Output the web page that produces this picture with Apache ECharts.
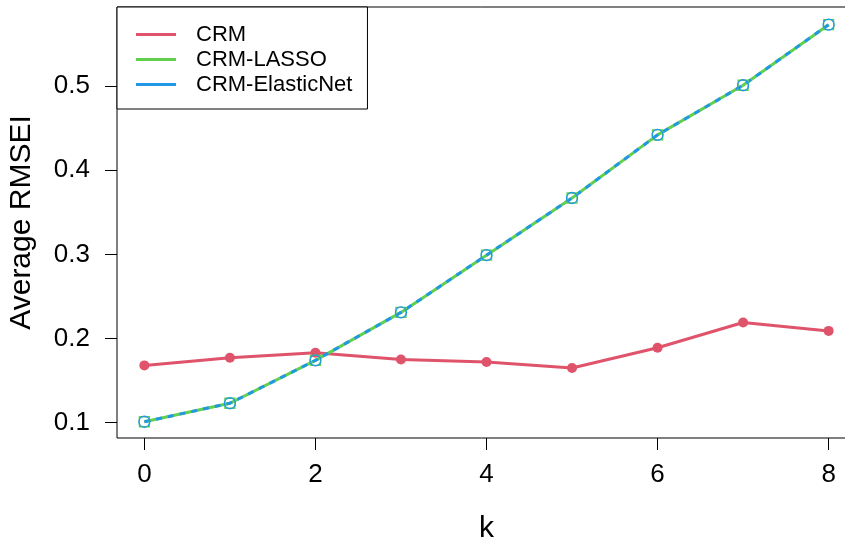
<!DOCTYPE html>
<html lang="en">

<head>
    <meta charset="UTF-8">
    <title>Average RMSEI</title>
    <script src="https://cdn.jsdelivr.net/npm/echarts@6.0.0/dist/echarts.min.js"></script>
    <style>
        body {
            margin: 0;
            background: #fff;
        }
    </style>
</head>

<body>
    <div id="main" style="width: 845px;height:544px;"></div>

    <script>
        const kValues = [0, 1, 2, 3, 4, 5, 6, 7, 8];
        const crm = [0.168, 0.177, 0.183, 0.175, 0.172, 0.165, 0.189, 0.219, 0.209];
        const crmLasso = [0.101, 0.123, 0.174, 0.231, 0.299, 0.367, 0.442, 0.501, 0.573];
        const crmElastic = [0.101, 0.123, 0.174, 0.231, 0.299, 0.367, 0.442, 0.501, 0.573];
        const xTicks = [0, 2, 4, 6, 8];
        const yTicks = [0.1, 0.2, 0.3, 0.4, 0.5];

        const chart = echarts.init(document.getElementById('main'));

        function pairs(ys) {
            return kValues.map((k, i) => [k, ys[i]]);
        }

        const lineIcon = 'path://M0,0 L40,0 L40,3 L0,3 Z';
        const font = 'Liberation Sans, Arial, sans-serif';

        const option = {
            animation: false,
            grid: {
                left: 117,
                right: -11,
                top: 7,
                bottom: 106,
                outerBoundsMode: 'none',
                show: true,
                borderColor: '#000',
                borderWidth: 1
            },
            legend: {
                orient: 'vertical',
                left: 117,
                top: 7,
                padding: [15, 15, 12, 19],
                backgroundColor: '#fff',
                borderColor: '#000',
                borderWidth: 1,
                itemWidth: 40,
                itemHeight: 3,
                itemGap: 0,
                textStyle: {
                    fontFamily: font,
                    fontSize: 22,
                    color: '#000',
                    lineHeight: 25,
                    padding: [0, 0, 0, 15]
                },
                data: [
                    { name: 'CRM', icon: lineIcon, itemStyle: { color: '#DF536B', borderWidth: 0 } },
                    { name: 'CRM-LASSO', icon: lineIcon, itemStyle: { color: '#61D04F', borderWidth: 0 } },
                    { name: 'CRM-ElasticNet', icon: lineIcon, itemStyle: { color: '#2297E6', borderWidth: 0 } }
                ]
            },
            xAxis: {
                type: 'value',
                min: -0.32,
                max: 8.32,
                name: 'k',
                nameLocation: 'middle',
                nameGap: 76,
                nameTextStyle: { fontFamily: font, fontSize: 30, color: '#000' },
                axisLine: { show: false, onZero: false },
                splitLine: { show: false },
                axisTick: { show: true, length: 12, customValues: xTicks, lineStyle: { color: '#000' } },
                axisLabel: { customValues: xTicks, margin: 24, fontFamily: font, fontSize: 26, color: '#000' }
            },
            yAxis: {
                type: 'value',
                min: 0.0817,
                max: 0.594,
                name: 'Average RMSEI',
                nameLocation: 'middle',
                nameGap: 80,
                nameTextStyle: { fontFamily: font, fontSize: 30, color: '#000' },
                axisLine: { show: false, onZero: false },
                splitLine: { show: false },
                axisTick: { show: true, length: 12, customValues: yTicks, lineStyle: { color: '#000' } },
                axisLabel: { customValues: yTicks, margin: 27, fontFamily: font, fontSize: 26, color: '#000' }
            },
            series: [
                {
                    name: 'CRM',
                    type: 'line',
                    data: pairs(crm),
                    symbol: 'circle',
                    symbolSize: 10,
                    itemStyle: { color: '#DF536B' },
                    lineStyle: { color: '#DF536B', width: 3 }
                },
                {
                    name: 'CRM-LASSO',
                    type: 'line',
                    data: pairs(crmLasso),
                    symbol: 'rect',
                    symbolSize: 10,
                    itemStyle: { color: 'rgba(0,0,0,0)', borderColor: '#61D04F', borderWidth: 1.3 },
                    lineStyle: { color: '#61D04F', width: 3 }
                },
                {
                    name: 'CRM-ElasticNet',
                    type: 'line',
                    data: pairs(crmElastic),
                    symbol: 'circle',
                    symbolSize: 11,
                    itemStyle: { color: 'rgba(0,0,0,0)', borderColor: '#2297E6', borderWidth: 1.3 },
                    lineStyle: { color: '#2297E6', width: 3, type: [6, 6] }
                }
            ]
        };

        chart.setOption(option);
    </script>
</body>

</html>
